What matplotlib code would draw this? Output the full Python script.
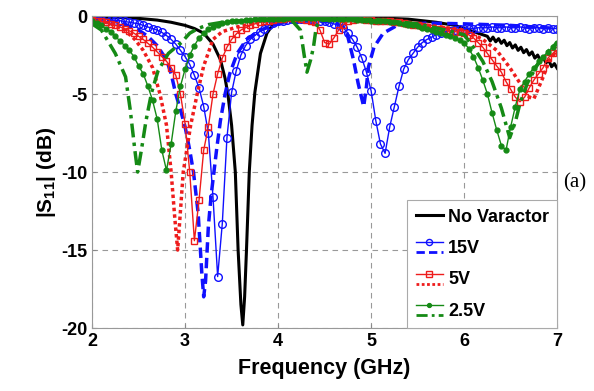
import numpy as np
import matplotlib
matplotlib.use("Agg")
import matplotlib.pyplot as plt
from matplotlib.legend_handler import HandlerBase
from matplotlib.lines import Line2D

plt.rcParams["font.family"] = "Liberation Sans"
plt.rcParams["mathtext.fontset"] = "custom"
plt.rcParams["mathtext.bf"] = "Liberation Sans:bold"
plt.rcParams["mathtext.rm"] = "Liberation Sans:bold"
plt.rcParams["axes.unicode_minus"] = False

# frequency grid (GHz) of the marker curves
freq = np.round(np.linspace(2.0, 7.0, 101), 2)

# 15V, solid line with circles
s15_mark = [-0.1, -0.15, -0.2, -0.2, -0.25, -0.3, -0.3, -0.35, -0.4, -0.45,
            -0.5, -0.6, -0.7, -0.8, -0.9, -1.05, -1.25, -1.5, -1.8, -2.2, -2.6,
            -3.1, -3.8, -4.6, -5.8, -7.5, -11.6, -16.7, -13.3, -7.8, -4.9,
            -3.5, -2.5, -1.9, -1.5, -1.25, -1.0, -0.8, -0.6, -0.45, -0.35,
            -0.3, -0.25, -0.2, -0.2, -0.2, -0.2, -0.2, -0.25, -0.3, -0.35,
            -0.4, -0.5, -0.6, -0.75, -1.1, -1.5, -2.0, -2.7, -3.6, -4.8,
            -6.7, -8.2, -8.8, -7.1, -5.8, -4.5, -3.4, -2.8, -2.4, -2.0,
            -1.7, -1.5, -1.35, -1.2, -1.1, -1.0, -0.95, -0.9, -0.85, -0.8,
            -0.8, -0.8, -0.75, -0.75, -0.75, -0.7, -0.75, -0.75, -0.7, -0.75,
            -0.75, -0.7, -0.75, -0.8, -0.75, -0.75, -0.8, -0.75, -0.8, -0.8]

# 5V, solid line with squares
s5_mark = [-0.2, -0.3, -0.35, -0.4, -0.5, -0.6, -0.7, -0.8, -0.95, -1.1,
           -1.3, -1.5, -1.75, -2.0, -2.3, -2.6, -2.9, -3.3, -3.8, -5.0, -6.9,
           -10.0, -14.4, -11.8, -8.6, -7.1, -5.0, -3.7, -2.7, -2.0, -1.5,
           -1.15, -0.9, -0.75, -0.6, -0.5, -0.4, -0.35, -0.3, -0.25, -0.2,
           -0.2, -0.15, -0.15, -0.15, -0.2, -0.25, -0.3, -0.4, -0.9, -1.7,
           -1.8, -1.4, -0.9, -0.55, -0.35, -0.25, -0.2, -0.2, -0.25, -0.25,
           -0.3, -0.3, -0.35, -0.35, -0.4, -0.4, -0.45, -0.5, -0.55, -0.6,
           -0.65, -0.7, -0.75, -0.8, -0.85, -0.9, -0.95, -1.0, -1.05, -1.1,
           -1.2, -1.4, -1.7, -2.0, -2.4, -2.8, -3.2, -3.6, -4.2, -4.7,
           -5.2, -5.5, -5.2, -4.6, -4.1, -3.7, -3.3, -2.7, -2.4, -2.2]

# 2.5V, solid line with dots
s25_mark = [-0.3, -0.45, -0.6, -0.8, -1.0, -1.3, -1.6, -1.9, -2.2, -2.6,
            -3.2, -3.7, -4.5, -5.4, -6.6, -8.6, -9.9, -8.2, -6.1, -4.5, -3.4,
            -2.5, -1.9, -1.4, -1.1, -0.85, -0.7, -0.55, -0.45, -0.4, -0.35,
            -0.3, -0.3, -0.25, -0.25, -0.2, -0.2, -0.2, -0.2, -0.2, -0.2,
            -0.2, -0.15, -0.15, -0.15, -0.15, -0.15, -0.15, -0.15, -0.15, -0.15,
            -0.2, -0.2, -0.2, -0.2, -0.2, -0.2, -0.25, -0.25, -0.25, -0.3,
            -0.3, -0.35, -0.35, -0.4, -0.4, -0.45, -0.5, -0.55, -0.6, -0.65,
            -0.75, -0.8, -0.9, -1.0, -1.1, -1.2, -1.3, -1.4, -1.55, -1.7,
            -2.1, -2.6, -3.3, -4.1, -5.0, -6.2, -7.3, -8.3, -8.6, -7.1,
            -5.8, -4.7, -4.2, -3.7, -3.3, -2.9, -2.6, -2.3, -2.0, -1.7]

# No varactor (solid black)
nv_freq = [2.0, 2.3, 2.5, 2.7, 2.85, 3.0, 3.1, 3.2, 3.3, 3.38, 3.43, 3.46,
           3.5, 3.54, 3.57, 3.6, 3.62, 3.64, 3.66, 3.69, 3.72, 3.75, 3.81,
           3.88, 3.95, 4.05, 4.3, 4.6, 5.0, 5.4, 5.7, 5.9, 6.0, 6.1, 6.2,
           6.25, 6.28, 6.31, 6.34, 6.37, 6.4, 6.43, 6.46, 6.49, 6.52, 6.55,
           6.58, 6.61, 6.64, 6.67, 6.7, 6.73, 6.76, 6.79, 6.82, 6.85, 6.88,
           6.91, 6.94, 6.97, 7.0]
nv_db = [-0.05, -0.1, -0.15, -0.26, -0.4, -0.6, -0.8, -1.1, -1.8, -2.8,
         -4.0, -5.0, -7.0, -10.0, -15.0, -18.5, -19.8, -18.0, -15.0, -10.0,
         -7.0, -4.9, -2.4, -1.1, -0.5, -0.2, -0.05, -0.05, -0.1, -0.2, -0.4,
         -0.6, -0.8, -1.0, -1.2, -1.3, -1.6, -1.35, -1.65, -1.45, -1.75, -1.55,
         -1.9, -1.7, -2.05, -1.85, -2.2, -2.0, -2.35, -2.15, -2.5, -2.3, -2.7,
         -2.5, -2.85, -2.65, -3.0, -2.85, -3.25, -3.05, -3.35]

# 15V, dashed
s15_freq = [2.0, 2.3, 2.5, 2.6, 2.7, 2.8, 2.85, 2.9, 2.95, 3.0, 3.05, 3.09,
            3.14, 3.18, 3.2, 3.22, 3.25, 3.28, 3.31, 3.34, 3.38, 3.43, 3.48,
            3.56, 3.66, 3.81, 3.95, 4.1, 4.4, 4.6, 4.7, 4.74, 4.81, 4.86,
            4.92, 4.95, 4.97, 5.03, 5.13, 5.28, 5.6, 6.0, 6.5, 7.0]
s15_db = [-0.1, -0.4, -0.9, -1.3, -1.9, -2.8, -3.7, -5.0, -6.0, -7.1, -8.6,
          -10.0, -12.6, -16.5, -18.0, -17.0, -13.5, -11.5, -10.0, -8.5, -6.7,
          -5.0, -3.7, -2.4, -1.5, -0.9, -0.6, -0.35, -0.3, -0.4, -0.7, -1.1,
          -2.8, -4.3, -5.8, -4.5, -3.3, -2.0, -1.1, -0.6, -0.45, -0.5, -0.6,
          -0.8]

# 5V, dotted
s5_freq = [2.0, 2.2, 2.35, 2.46, 2.55, 2.65, 2.73, 2.8, 2.85, 2.89, 2.92,
           2.95, 2.98, 3.06, 3.13, 3.2, 3.3, 3.4, 3.56, 3.7, 3.9, 4.2, 5.0,
           5.5, 6.0, 6.2, 6.35, 6.49, 6.6, 6.7, 6.75, 6.8, 6.85, 6.92, 7.0]
s5_db = [-0.1, -0.5, -0.9, -1.5, -2.2, -3.3, -5.0, -7.0, -10.0, -13.0,
         -15.0, -12.5, -10.0, -7.0, -5.0, -3.2, -1.5, -1.0, -0.7, -0.5, -0.3,
         -0.2, -0.3, -0.5, -0.9, -1.5, -2.2, -3.3, -4.3, -5.2, -5.3, -4.6,
         -3.9, -2.8, -2.2]

# 2.5V, dash-dot
s25_freq = [2.0, 2.05, 2.1, 2.25, 2.36, 2.41, 2.46, 2.49, 2.53, 2.58, 2.64,
            2.71, 2.82, 2.96, 3.05, 3.14, 3.25, 3.4, 3.6, 4.0, 4.15, 4.24,
            4.28, 4.31, 4.35, 4.38, 4.41, 4.45, 4.7, 5.0, 5.5, 5.8, 6.0, 6.1,
            6.2, 6.3, 6.4, 6.49, 6.55, 6.6, 6.68, 6.78, 6.88, 7.0]
s25_db = [-0.5, -0.7, -0.9, -2.4, -3.9, -6.0, -8.6, -10.0, -8.6, -6.7,
          -4.9, -3.5, -2.4, -1.7, -1.1, -0.8, -0.55, -0.4, -0.3, -0.25, -0.3,
          -0.9, -2.5, -3.6, -2.8, -2.0, -0.7, -0.3, -0.15, -0.2, -0.5, -0.9,
          -1.2, -2.0, -2.9, -4.2, -5.9, -7.8, -6.8, -5.6, -4.3, -3.2, -2.4,
          -1.7]

labels = ["No Varactor", "15V", "5V", "2.5V"]

blue = "#1010ff"
red = "#ee1c1c"
green = "#158a15"

fig = plt.figure(figsize=(5.94, 3.91), dpi=100)
ax = fig.add_axes([0.155, 0.161, 0.783, 0.798])

h_nv, = ax.plot(nv_freq, nv_db, color="black", lw=2.2)
h15a, = ax.plot(freq, s15_mark, color=blue, lw=1, marker="o", ms=5.5,
                mfc="none", mew=1)
h15b, = ax.plot(s15_freq, s15_db, color=blue, lw=2.5, ls=(0, (3, 1.5)))
h5a, = ax.plot(freq, s5_mark, color=red, lw=1, marker="s", ms=5,
               mfc="none", mew=1)
h5b, = ax.plot(s5_freq, s5_db, color=red, lw=2.5, ls=(0, (1, 0.9)))
h25a, = ax.plot(freq, s25_mark, color=green, lw=1, marker="o", ms=3.5)
h25b, = ax.plot(s25_freq, s25_db, color=green, lw=2.5,
                ls=(0, (4, 1.5, 1, 1.5)))

ax.set_xlim(2, 7)
ax.set_ylim(-20, 0)
ax.set_xticks([2, 3, 4, 5, 6, 7])
ax.set_yticks([0, -5, -10, -15, -20])
ax.grid(True, color="#999999", ls=(0, (5, 4)), lw=0.8)
ax.tick_params(direction="in", length=3, color="#888888", labelsize=13)
for t in ax.get_xticklabels() + ax.get_yticklabels():
    t.set_fontweight("bold")
for sp in ax.spines.values():
    sp.set_color("#999999")
    sp.set_linewidth(0.8)

ax.set_xlabel("Frequency (GHz)", fontsize=15.5, fontweight="bold", labelpad=6)
ax.set_ylabel(r"|S$_{\mathbf{11}}$| (dB)", fontsize=15, fontweight="bold",
              labelpad=2)


class StackedHandler(HandlerBase):
    # marker line on top, styled line under it
    def create_artists(self, legend, orig_handle, xdescent, ydescent,
                       width, height, fontsize, trans):
        x0 = -xdescent
        x1 = -xdescent + width
        out = []
        if not isinstance(orig_handle, tuple):
            ln = Line2D([x0, x1], [height / 2 - ydescent] * 2)
            ln.update_from(orig_handle)
            ln.set_transform(trans)
            return [ln]
        top, bot = orig_handle
        yt = height * 0.85 - ydescent
        yb = height * 0.05 - ydescent
        ln = Line2D([x0, x1], [yt, yt], color=top.get_color(), lw=1)
        mk = Line2D([(x0 + x1) / 2], [yt], marker=top.get_marker(),
                    ms=top.get_markersize() * 0.8, color=top.get_color(),
                    mfc=top.get_markerfacecolor(), mew=1, ls="none")
        lb = Line2D([x0, x1], [yb, yb])
        lb.update_from(bot)
        lb.set_linewidth(2)
        for a in (ln, mk, lb):
            a.set_transform(trans)
            out.append(a)
        return out


leg = ax.legend([h_nv, (h15a, h15b), (h5a, h5b), (h25a, h25b)], labels,
                handler_map={Line2D: StackedHandler(), tuple: StackedHandler()},
                loc="lower right", borderaxespad=0, fancybox=False,
                edgecolor="#aaaaaa", framealpha=1, handlelength=1.5,
                handletextpad=0.3, labelspacing=0.8, borderpad=0.45,
                prop={"weight": "bold", "size": 13})
leg.get_frame().set_linewidth(0.8)

fig.text(0.968, 0.532, "(a)", fontsize=15, family="Liberation Serif",
         ha="center", va="center")

fig.savefig("out.png", dpi=100)
